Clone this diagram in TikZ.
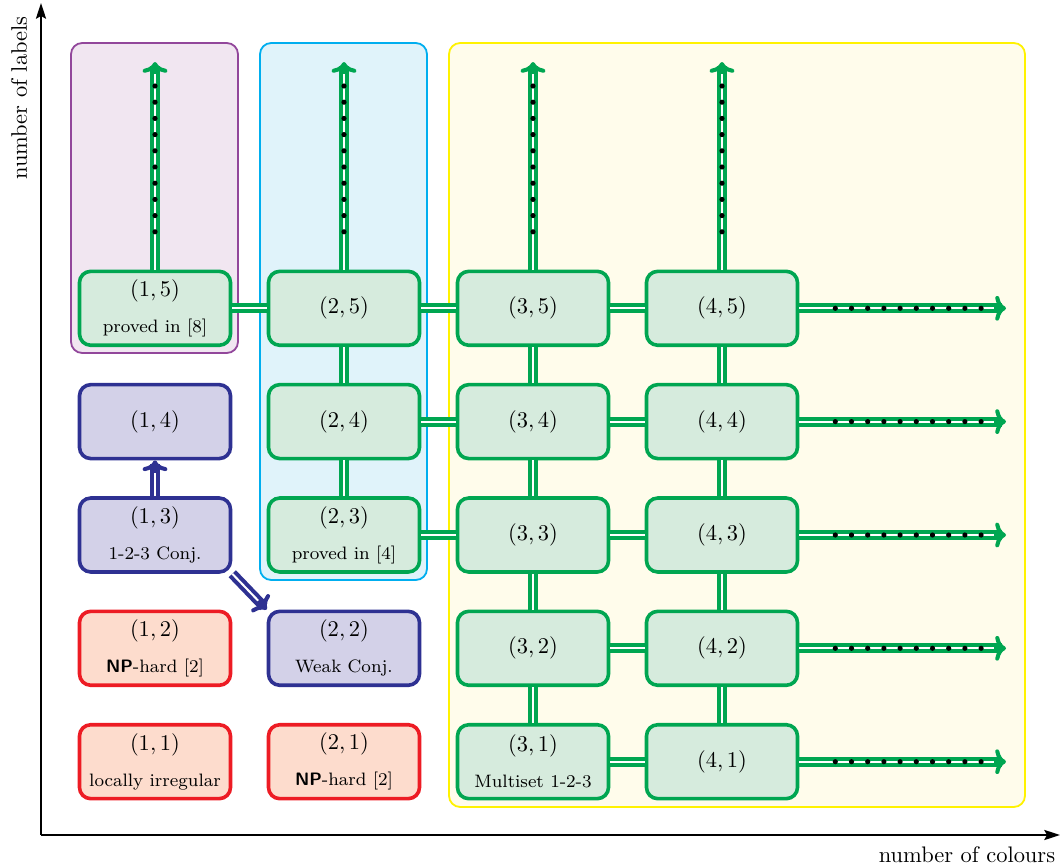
\documentclass[tikz,border=0pt]{standalone}
\usetikzlibrary{arrows.meta}
\definecolor{cG}{RGB}{0,166,81}
\definecolor{cGf}{RGB}{214,235,221}
\definecolor{cR}{RGB}{237,28,36}
\definecolor{cRf}{RGB}{253,220,205}
\definecolor{cB}{RGB}{46,49,146}
\definecolor{cBf}{RGB}{211,209,232}
\definecolor{cP}{RGB}{146,71,155}
\definecolor{cPf}{RGB}{241,230,241}
\definecolor{cC}{RGB}{0,174,239}
\definecolor{cCf}{RGB}{224,243,250}
\definecolor{cY}{RGB}{255,242,0}
\definecolor{cYf}{RGB}{255,252,235}
\tikzset{
  cellbox/.style={draw, ultra thick, rounded corners=5pt, inner sep=0pt,
    minimum width=67.2pt, minimum height=32.9pt, align=center, font=\normalsize},
  gbox/.style={cellbox, draw=cG, fill=cGf},
  rbox/.style={cellbox, draw=cR, fill=cRf},
  bbox/.style={cellbox, draw=cB, fill=cBf},
  region/.style={draw, thick, rounded corners=5pt},
  dline/.style={line width=1.8pt, double=white, double distance=0.9pt},
  glink/.style={draw=cG, dline},
  arrowouter/.style={line width=4.5pt, -{To[length=4.8pt,width=11pt,line width=1.8pt]}},
  arrowcore/.style={draw=white, line width=0.9pt, shorten >=5.5pt},
  axis/.style={thick, -{Stealth[length=7pt,width=4.5pt,inset=1.2pt]}},
  dotmark/.style={fill=black}
}
\newcommand{\dblarrow}[3]{\draw[draw=#1, arrowouter] (#2) -- (#3); \draw[arrowcore] (#2) -- (#3);}
\newcommand{\smalltxt}[1]{{\footnotesize #1}}
\newcommand{\npclass}{\textsf{\bfseries NP}}
\begin{document}
\begin{tikzpicture}[x=0.445pt,y=-0.445pt]
\useasboundingbox (0,0) rectangle (1063,867);
% regions
\draw[region, draw=cP, fill=cPf] (71,43) rectangle (238,353);
\draw[region, draw=cC, fill=cCf] (260,43) rectangle (427,580);
\draw[region, draw=cY, fill=cYf] (449,43) rectangle (1025,807);
% axes
\coordinate (O) at (41,835);
\coordinate (Ytop) at (41,3);
\coordinate (Xend) at (1060,835);
\draw[axis] (O) -- (Ytop);
\draw[axis] (O) -- (Xend);
\node[rotate=90] (ylab) at (19,98) {number of labels};
\node (xlab) at (967,855) {number of colours};
% cells
\node[gbox] (n15) at (155,308.3) {$(1,5)$\\[4pt]\smalltxt{proved in [8]}};
\node[bbox] (n14) at (155,421.6) {$(1,4)$};
\node[bbox] (n13) at (155,535) {$(1,3)$\\[4pt]\smalltxt{1-2-3 Conj.}};
\node[rbox] (n12) at (155,648.3) {$(1,2)$\\[4pt]\smalltxt{\npclass-hard [2]}};
\node[rbox] (n11) at (155,761.7) {$(1,1)$\\[4pt]\smalltxt{locally irregular}};
\node[gbox] (n25) at (344,308.3) {$(2,5)$};
\node[gbox] (n24) at (344,421.6) {$(2,4)$};
\node[gbox] (n23) at (344,535) {$(2,3)$\\[4pt]\smalltxt{proved in [4]}};
\node[bbox] (n22) at (344,648.3) {$(2,2)$\\[4pt]\smalltxt{Weak Conj.}};
\node[rbox] (n21) at (344,761.7) {$(2,1)$\\[4pt]\smalltxt{\npclass-hard [2]}};
\node[gbox] (n35) at (533,308.3) {$(3,5)$};
\node[gbox] (n34) at (533,421.6) {$(3,4)$};
\node[gbox] (n33) at (533,535) {$(3,3)$};
\node[gbox] (n32) at (533,648.3) {$(3,2)$};
\node[gbox] (n31) at (533,761.7) {$(3,1)$\\[4pt]\smalltxt{Multiset 1-2-3}};
\node[gbox] (n45) at (722,308.3) {$(4,5)$};
\node[gbox] (n44) at (722,421.6) {$(4,4)$};
\node[gbox] (n43) at (722,535) {$(4,3)$};
\node[gbox] (n42) at (722,648.3) {$(4,2)$};
\node[gbox] (n41) at (722,761.7) {$(4,1)$};
% green links
\draw[glink] (n15) -- (n25);
\draw[glink] (n25) -- (n35);
\draw[glink] (n35) -- (n45);
\draw[glink] (n24) -- (n34);
\draw[glink] (n34) -- (n44);
\draw[glink] (n23) -- (n33);
\draw[glink] (n33) -- (n43);
\draw[glink] (n32) -- (n42);
\draw[glink] (n31) -- (n41);
\draw[glink] (n25) -- (n24);
\draw[glink] (n24) -- (n23);
\draw[glink] (n35) -- (n34);
\draw[glink] (n34) -- (n33);
\draw[glink] (n33) -- (n32);
\draw[glink] (n32) -- (n31);
\draw[glink] (n45) -- (n44);
\draw[glink] (n44) -- (n43);
\draw[glink] (n43) -- (n42);
\draw[glink] (n42) -- (n41);
% upward arrows
\coordinate (u1) at (155,62);
\coordinate (u2) at (344,62);
\coordinate (u3) at (533,62);
\coordinate (u4) at (722,62);
\dblarrow{cG}{n15}{u1}
\dblarrow{cG}{n25}{u2}
\dblarrow{cG}{n35}{u3}
\dblarrow{cG}{n45}{u4}
% rightward arrows
\coordinate (r5) at (1006,308.3);
\coordinate (r4) at (1006,421.6);
\coordinate (r3) at (1006,535);
\coordinate (r2) at (1006,648.3);
\coordinate (r1) at (1006,761.7);
\dblarrow{cG}{n45}{r5}
\dblarrow{cG}{n44}{r4}
\dblarrow{cG}{n43}{r3}
\dblarrow{cG}{n42}{r2}
\dblarrow{cG}{n41}{r1}
% dots
\foreach \cx in {155,344,533,722}
  \foreach \k in {0,...,9}
    \fill[dotmark] (\cx,86+16.2*\k) circle (1.15pt);
\foreach \cy in {308.3,421.6,535,648.3,761.7}
  \foreach \k in {0,...,9}
    \fill[dotmark] (835.3+16.2*\k,\cy) circle (1.15pt);
% blue arrows
\dblarrow{cB}{n13}{n14}
\dblarrow{cB}{n13.south east}{n22.north west}
\end{tikzpicture}
\end{document}
